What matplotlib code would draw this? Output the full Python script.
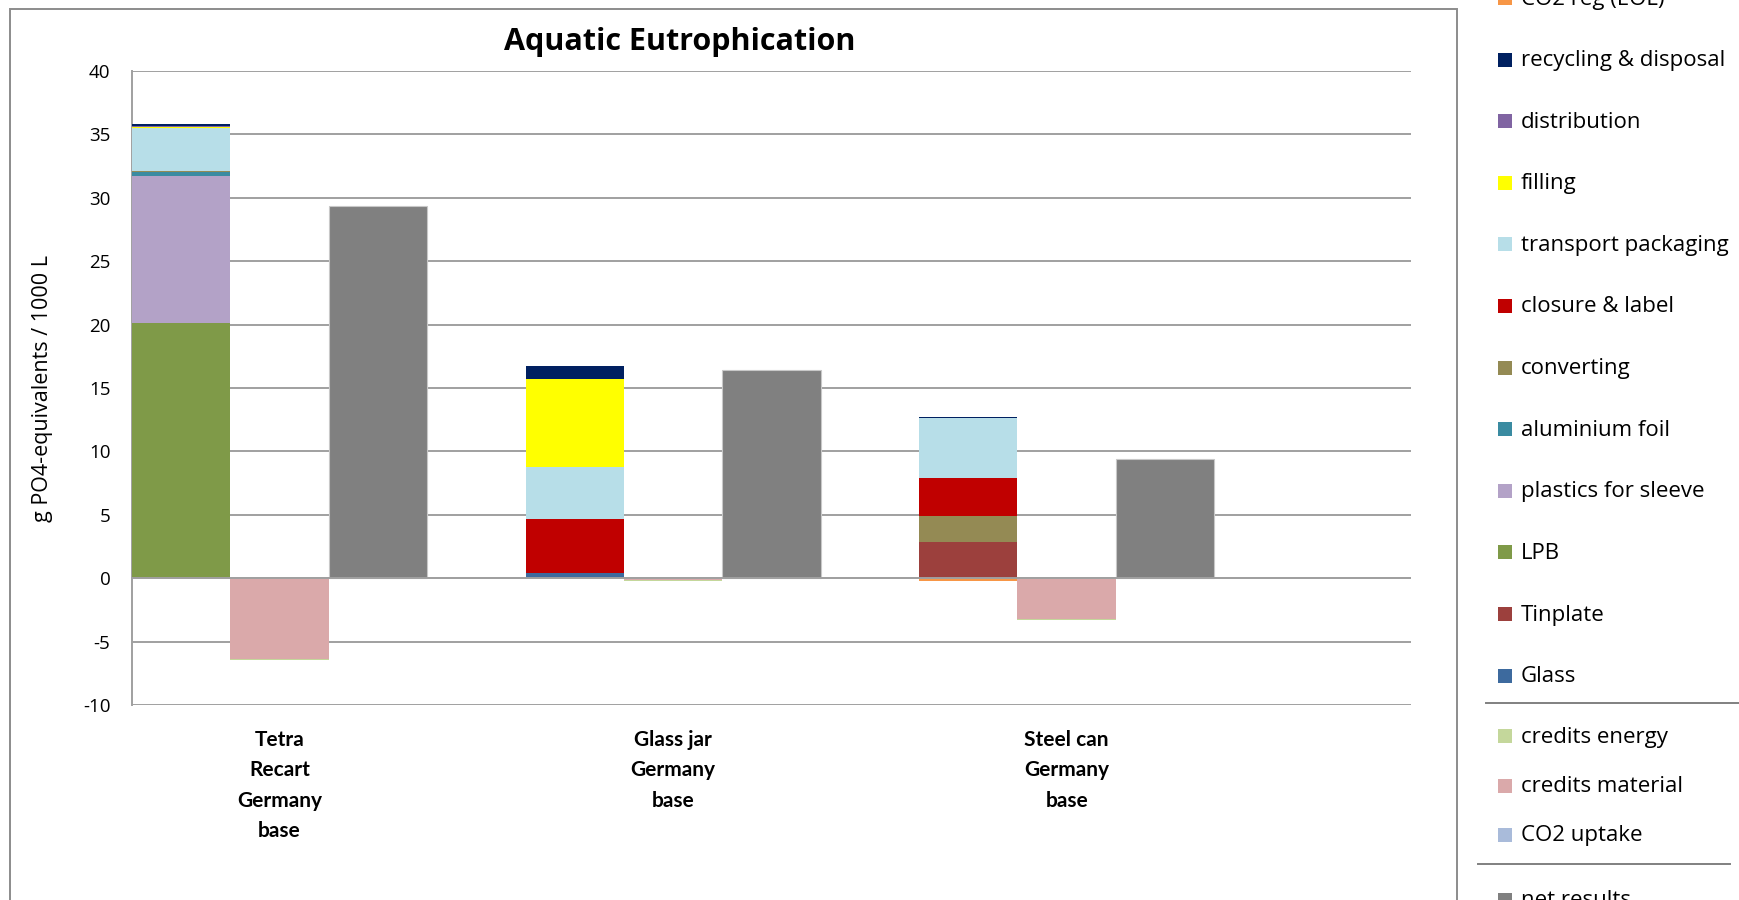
import matplotlib
matplotlib.use("Agg")
import matplotlib.pyplot as plt
from matplotlib.patches import Rectangle
from matplotlib.lines import Line2D

plt.rcParams['font.family'] = ['Open Sans', 'DejaVu Sans']
plt.rcParams['axes.unicode_minus'] = False

#-categories and series (stack order bottom -> top)
categories = ["Tetra\nRecart\nGermany\nbase", "Glass jar\nGermany\nbase", "Steel can\nGermany\nbase"]

burden_names = ["Glass", "Tinplate", "LPB", "plastics for sleeve", "aluminium foil",
                "converting", "closure & label", "transport packaging", "filling",
                "distribution", "recycling & disposal", "CO2 reg (EOL)"]
burden_colors = ["#3D6A9E", "#9C403D", "#7F9A48", "#B3A2C7", "#3A8BA1",
                 "#948A54", "#C00000", "#B7DEE8", "#FFFF00",
                 "#8064A2", "#002060", "#F79646"]
burden_tetra = [0, 0, 20.1, 11.6, 0.3, 0.1, 0, 3.4, 0.12, 0.05, 0.12, 0]
burden_glass = [0.43, 0, 0, 0, 0, 0, 4.23, 4.11, 6.96, 0, 0.97, 0]
burden_steel = [0, 2.85, 0, 0, 0, 2.08, 3.0, 4.69, 0, 0, 0.1, -0.2]

credit_names = ["credits material", "credits energy", "CO2 uptake"]
credit_colors = ["#DAA9AA", "#C4D79B", "#A9BBDA"]
credit_tetra = [-6.35, -0.08, 0]
credit_glass = [-0.12, -0.1, 0]
credit_steel = [-3.2, -0.08, 0]

net_name = "net results"
net_color = "#808080"
net_values = [29.35, 16.44, 9.41]

burdens = [burden_tetra, burden_glass, burden_steel]
credits = [credit_tetra, credit_glass, credit_steel]

fig = plt.figure(figsize=(17.39, 9.0), dpi=100)
W, H = 1739.0, 900.0
ax = fig.add_axes([132/W, 1-705/H, (1411-132)/W, (705-71)/H])


def stack(x, values, colors):
    pos, neg = 0.0, 0.0
    for v, c in zip(values, colors):
        if v >= 0:
            ax.bar(x, v, 1.0, bottom=pos, color=c, linewidth=0, zorder=3)
            pos += v
        else:
            ax.bar(x, v, 1.0, bottom=neg, color=c, linewidth=0, zorder=3)
            neg += v


for g in range(len(categories)):
    x0 = 4*g
    stack(x0+0.5, burdens[g], burden_colors)
    stack(x0+1.5, credits[g], credit_colors)
    ax.bar(x0+2.5, net_values[g], 1.0, color=net_color, edgecolor="#c8c8c8",
           linewidth=0.8, zorder=3)

ax.set_xlim(0, 13)
ax.set_ylim(-10, 40)
ax.set_yticks(range(-10, 41, 5))
ax.yaxis.grid(True, color="#a0a0a0", linewidth=1.4, zorder=0)
ax.set_axisbelow(True)
for s in ["top", "right", "bottom"]:
    ax.spines[s].set_visible(False)
ax.spines["left"].set_color("#a0a0a0")
ax.spines["left"].set_linewidth(1.4)
ax.tick_params(axis="y", length=0, labelsize=13.5, pad=15.5)
ax.set_xticks([4*g+1.5 for g in range(len(categories))])
ax.set_xticklabels(categories, fontsize=15, fontweight="bold",
                   family=["Lato", "DejaVu Sans"], linespacing=1.65)
ax.tick_params(axis="x", length=0, pad=18)
ax.set_ylabel("g PO4-equivalents / 1000 L", fontsize=15.5)
ax.yaxis.set_label_coords((53-132)/(1411-132), 0.5)
ax.axhline(0, color="#a0a0a0", linewidth=1.4, zorder=4)

fig.text(680/W, 1-42/H, "Aquatic Eutrophication", ha="center", va="center",
         fontsize=22, fontweight="bold")

#-outer chart frame
fig.add_artist(Rectangle((10/W, -0.1), (1457-10)/W, 1.1-9/H, fill=False,
                         edgecolor="#8c8c8c", linewidth=1.4, transform=fig.transFigure))


#-legend drawn by hand to match the grouped layout
def entry(y, label, color):
    fig.add_artist(Rectangle((1498/W, 1-(y+7)/H), 14/W, 14/H, facecolor=color,
                             edgecolor="none", transform=fig.transFigure))
    fig.text(1521/W, 1-(y+1)/H, label, ha="left", va="center", fontsize=16)


for i, (name, col) in enumerate(zip(burden_names[::-1], burden_colors[::-1])):
    entry(-2 + 61.6*i, name, col)
credit_order = ["credits energy", "credits material", "CO2 uptake"]
for i, name in enumerate(credit_order):
    entry(736 + 49.5*i, name, credit_colors[credit_names.index(name)])
entry(900, net_name, net_color)

fig.add_artist(Line2D([1486/W, 1.0], [1-703/H, 1-703/H], color="#808080",
                      linewidth=1.4, transform=fig.transFigure))
fig.add_artist(Line2D([1478/W, 1730/W], [1-864/H, 1-864/H], color="#808080",
                      linewidth=1.4, transform=fig.transFigure))

fig.savefig("out.png", dpi=100)
